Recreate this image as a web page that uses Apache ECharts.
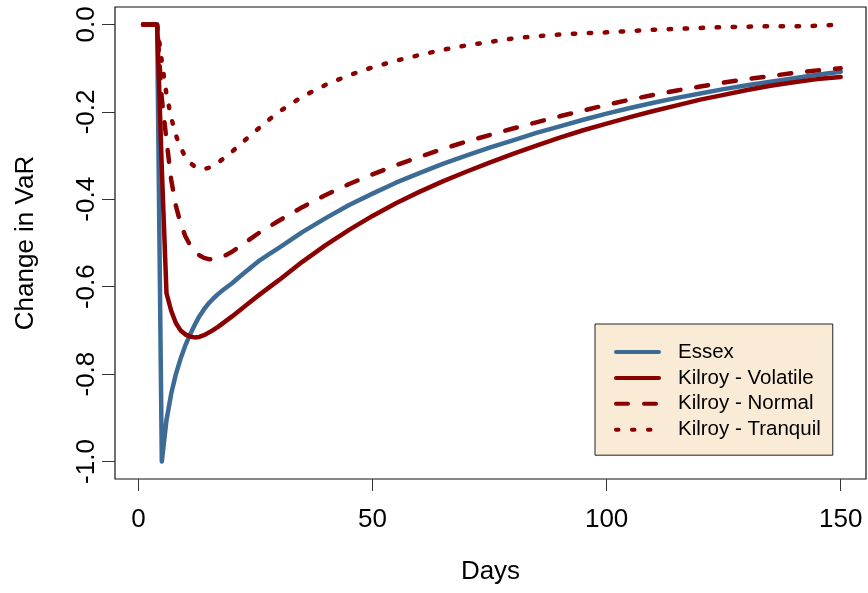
<!doctype html>
<html lang="en">

<head>
    <meta charset="UTF-8">
    <title>Change in VaR</title>
    <style>
        html, body { margin: 0; padding: 0; background: #fff; }
    </style>
</head>

<body>
    <div id="main" style="width: 868px;height:593px;"></div>
    <script src="https://cdn.jsdelivr.net/npm/echarts@6/dist/echarts.min.js"></script>
    <script>
        // days (dense at the start, sparser later)
        var days = [1, 2, 3, 4, 5, 6, 7, 8, 9, 10, 11, 12, 13, 14, 15, 16, 17, 18, 19, 20,
            22, 24, 26, 28, 30, 35, 40, 45, 50, 55, 60, 65, 70, 75, 80, 85, 90, 95, 100,
            105, 110, 115, 120, 125, 130, 135, 140, 145, 150];

        var essex = [0, 0, 0, 0, -1.0, -0.905, -0.845, -0.80, -0.765, -0.735, -0.71, -0.688, -0.668, -0.652, -0.638, -0.627, -0.617, -0.608, -0.600, -0.592,
            -0.574, -0.556, -0.539, -0.525, -0.511, -0.475, -0.443, -0.413, -0.387, -0.362, -0.34, -0.319, -0.30, -0.282, -0.265, -0.248, -0.233, -0.218, -0.204,
            -0.191, -0.179, -0.168, -0.158, -0.148, -0.139, -0.131, -0.123, -0.115, -0.108];

        var volatile = [0, 0, 0, 0, -0.33, -0.615, -0.655, -0.683, -0.700, -0.709, -0.714, -0.716, -0.715, -0.711, -0.705, -0.699, -0.692, -0.684, -0.676, -0.668,
            -0.651, -0.634, -0.617, -0.601, -0.585, -0.543, -0.505, -0.470, -0.438, -0.409, -0.383, -0.359, -0.337, -0.316, -0.296, -0.277, -0.259, -0.242, -0.227,
            -0.212, -0.198, -0.185, -0.172, -0.161, -0.150, -0.140, -0.132, -0.125, -0.12];

        var normal = [0, 0, 0, 0, -0.17, -0.265, -0.355, -0.415, -0.455, -0.484, -0.504, -0.518, -0.528, -0.534, -0.537, -0.537, -0.535, -0.531, -0.526, -0.520,
            -0.505, -0.49, -0.475, -0.462, -0.449, -0.418, -0.39, -0.365, -0.343, -0.322, -0.303, -0.285, -0.268, -0.253, -0.238, -0.224, -0.210, -0.197, -0.184,
            -0.172, -0.161, -0.151, -0.142, -0.133, -0.125, -0.118, -0.111, -0.105, -0.10];

        var tranquil = [0, 0, 0, 0, -0.085, -0.16, -0.213, -0.253, -0.282, -0.302, -0.316, -0.325, -0.330, -0.331, -0.328, -0.323, -0.316, -0.308, -0.300, -0.291,
            -0.272, -0.253, -0.235, -0.217, -0.200, -0.165, -0.138, -0.116, -0.098, -0.083, -0.070, -0.058, -0.048, -0.040, -0.032, -0.027, -0.023, -0.020, -0.018,
            -0.015, -0.012, -0.010, -0.008, -0.006, -0.005, -0.004, -0.004, -0.003, 0.0];

        var xTicks = [0, 50, 100, 150];
        var yTicks = [-1.0, -0.8, -0.6, -0.4, -0.2, 0.0];

        var names = ['Essex', 'Kilroy - Volatile', 'Kilroy - Normal', 'Kilroy - Tranquil'];

        var font = 'Liberation Sans, Arial, sans-serif';
        var red = '#8B0000';

        function pairs(arr) {
            return days.map(function (d, i) { return [d, arr[i]]; });
        }

        function line(name, arr, color, dash) {
            return {
                name: name,
                type: 'line',
                data: pairs(arr),
                symbol: 'none',
                animation: false,
                lineStyle: { color: color, width: 4.5, type: dash, cap: 'round', join: 'round' },
                itemStyle: { color: color }
            };
        }

        var myChart = echarts.init(document.getElementById('main'));

        option = {
            backgroundColor: '#fff',
            grid: {
                left: 115, right: 2, top: 7, bottom: 114,
                show: true, borderColor: '#111', borderWidth: 1.2, backgroundColor: 'transparent'
            },
            legend: {
                data: names,
                orient: 'vertical',
                left: 595, top: 324,
                padding: [17.5, 12, 15, 19],
                itemGap: 4.9,
                itemWidth: 43,
                itemHeight: 14,
                backgroundColor: '#FAEBD7',
                borderColor: '#222',
                borderWidth: 1,
                borderRadius: 0,
                itemStyle: { opacity: 0 },
                lineStyle: { width: 4 },
                textStyle: { fontFamily: font, fontSize: 20.5, color: '#000', lineHeight: 20, padding: [0, 0, 0, 14] }
            },
            xAxis: {
                type: 'value',
                min: -5.0,
                max: 155.4,
                name: 'Days',
                nameLocation: 'middle',
                nameGap: 80,
                nameTextStyle: { fontFamily: font, fontSize: 26, color: '#000' },
                axisLine: { show: false, onZero: false },
                splitLine: { show: false },
                axisTick: { show: true, length: 12, customValues: xTicks, lineStyle: { color: '#333' } },
                axisLabel: { customValues: xTicks, margin: 28, fontFamily: font, fontSize: 26, color: '#000' }
            },
            yAxis: {
                type: 'value',
                min: -1.04,
                max: 0.04,
                name: 'Change in VaR',
                nameLocation: 'middle',
                nameGap: 76,
                nameTextStyle: { fontFamily: font, fontSize: 26, color: '#000' },
                axisLine: { show: false, onZero: false },
                splitLine: { show: false },
                axisTick: { show: true, length: 13, customValues: yTicks, lineStyle: { color: '#333' } },
                axisLabel: {
                    customValues: yTicks, rotate: 90, margin: 15,
                    fontFamily: font, fontSize: 26, color: '#000',
                    formatter: function (v) { return v.toFixed(1); }
                }
            },
            series: [
                line(names[0], essex, '#3C6C95', 'solid'),
                line(names[1], volatile, red, 'solid'),
                line(names[2], normal, red, [12, 16]),
                line(names[3], tranquil, red, [2.5, 13.5])
            ]
        };

        myChart.setOption(option);
    </script>
</body>

</html>
